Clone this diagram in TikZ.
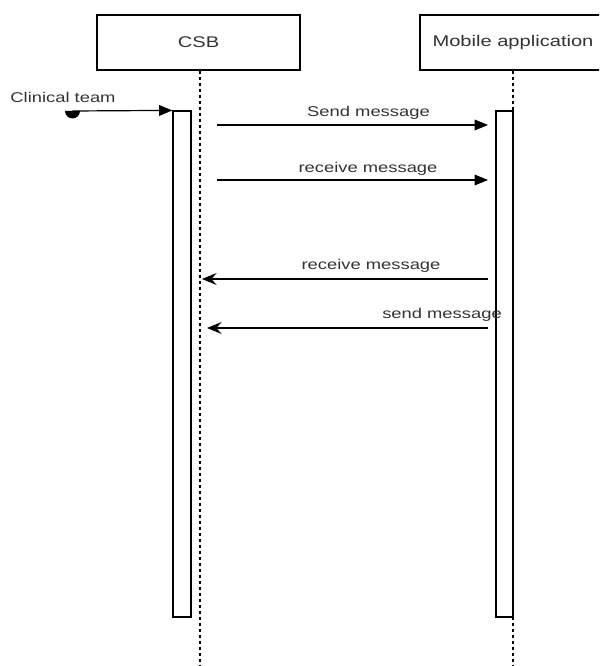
\documentclass[tikz,border=0pt]{standalone}
\usepackage{fontspec}
\newfontfamily\seqfont[FakeStretch=1.3]{Liberation Sans}
\usetikzlibrary{arrows.meta}

\begin{document}
\begin{tikzpicture}[
        x=0.75pt, y=-0.75pt,
        line width=0.9pt,
        head/.style={draw, rectangle, minimum height=41.25pt, inner sep=0pt,
            font=\seqfont\fontsize{11.6}{13}\selectfont, text=black!80},
        bar/.style={draw, fill=white, rectangle, minimum width=13.5pt,
            minimum height=379.5pt, inner sep=0pt},
        life/.style={dash pattern=on 2.25pt off 2.25pt},
        msg/.style={font=\seqfont\fontsize{10.6}{12}\selectfont, text=black!80,
            anchor=base, inner sep=0pt},
        call/.style={-{Triangle[length=10pt, width=8pt]}},
        back/.style={-{Stealth[length=11pt, width=9pt, inset=4pt]}}
    ]
        \clip (0,0) rectangle (599,666);

        % Participantes
        \node[head, minimum width=152.25pt] (csb) at (198.5,42.5) {CSB};
        \node[head, minimum width=139.5pt] (mob) at (513,42.5) {Mobile application};

        % Lineas de vida
        \coordinate (csbend) at (200,666);
        \coordinate (mobend) at (513,666);
        \draw[life] (csb.south -| csbend) -- (csbend);
        \draw[life] (mob.south) -- (mobend);

        % Barras de activacion
        \node[bar] (csbbar) at (182,364) {};
        \node[bar, minimum width=12.75pt] (mobbar) at (504.5,364) {};

        % Mensaje encontrado
        \coordinate (start) at (72.5,111);
        \fill (start) ++(-5.6pt,0) arc[start angle=180, end angle=360, radius=5.6pt] -- cycle;
        \node[msg] (team) at (63,103) {Clinical team};
        \draw[call] (start) -- (csbbar.north west);

        % Mensajes
        \coordinate (a1) at (217,125);
        \coordinate (b1) at (488,125);
        \coordinate (a2) at (217,180);
        \coordinate (b2) at (488,180);
        \coordinate (a3) at (202,279);
        \coordinate (b3) at (488,279);
        \coordinate (a4) at (207,328);
        \coordinate (b4) at (488,328);

        \draw[call] (a1) -- (b1);
        \node[msg] (m1) at (368.5,117) {Send message};

        \draw[call] (a2) -- (b2);
        \node[msg] (m2) at (368,173) {receive message};

        \draw[back] (b3) -- (a3);
        \node[msg] (m3) at (371,269) {receive message};

        \draw[back] (b4) -- (a4);
        \node[msg] (m4) at (442,318) {send message};

    \end{tikzpicture}
\end{document}
